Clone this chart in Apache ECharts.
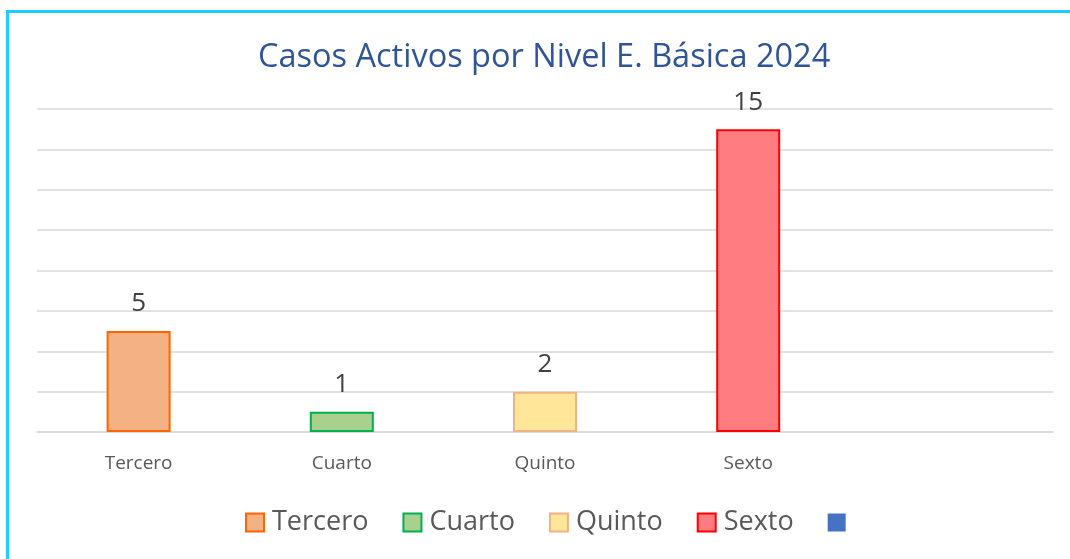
<!DOCTYPE html>
<html>
<head>
    <meta charset="utf-8">
    <title>Casos Activos</title>
    <script src="https://cdn.jsdelivr.net/npm/echarts@6/dist/echarts.min.js"></script>
    <style>
        body { margin: 0; background: #fff; }
    </style>
</head>
<body>
<div id="main" style="width: 1070px;height:559px;"></div>
<script type="text/javascript">
    // datos
    var categorias = ['Tercero', 'Cuarto', 'Quinto', 'Sexto', ''];
    var nombresSeries = ['Tercero', 'Cuarto', 'Quinto', 'Sexto', ' '];
    var valores = [5, 1, 2, 15, null];

    var rellenos = ['#F4B183', '#A9D18E', '#FFE699', '#FF7C80', '#4472C4'];
    var bordes = ['#FF6600', '#00B050', '#F4B183', '#FF0000', '#4472C4'];

    var fuente = '"Open Sans", "Noto Sans", sans-serif';

    var series = [];
    for (var i = 0; i < nombresSeries.length; i++) {
        var datos = [];
        for (var j = 0; j < categorias.length; j++) {
            datos.push(j === i && valores[i] != null ? valores[i] : '-');
        }
        series.push({
            name: nombresSeries[i],
            type: 'bar',
            stack: 'total',
            barWidth: 64,
            data: datos,
            itemStyle: {
                color: rellenos[i],
                borderColor: bordes[i],
                borderWidth: i === 4 ? 0 : 2
            },
            label: {
                show: true,
                position: 'top',
                distance: 14,
                color: '#404040',
                fontSize: 26,
                fontFamily: fuente
            }
        });
    }

    var chart = echarts.init(document.getElementById('main'));
    chart.setOption({
        animation: false,
        title: {
            text: 'Casos Activos por Nivel E. Básica 2024',
            left: 253,
            top: 36,
            textStyle: {
                color: '#2F5597',
                fontSize: 32.5,
                fontWeight: 'normal',
                fontFamily: fuente
            }
        },
        graphic: [{
            type: 'rect',
            shape: { x: 7.5, y: 11.5, width: 1200, height: 700 },
            style: { fill: 'none', stroke: '#1FCBFF', lineWidth: 3 },
            silent: true
        }],
        legend: {
            bottom: 18,
            left: 240,
            itemWidth: 18,
            itemHeight: 18,
            itemGap: 34,
            icon: 'rect',
            textStyle: {
                color: '#595959',
                fontSize: 27,
                padding: [0, 0, 0, 3],
                fontFamily: fuente
            },
            data: nombresSeries
        },
        grid: {
            left: 37,
            right: 17,
            top: 109,
            bottom: 127
        },
        xAxis: {
            type: 'category',
            data: categorias,
            axisTick: { show: false },
            axisLine: { lineStyle: { color: '#D9D9D9', width: 1.5 } },
            axisLabel: {
                color: '#595959',
                fontSize: 19,
                margin: 22,
                fontFamily: fuente
            }
        },
        yAxis: {
            type: 'value',
            min: 0,
            max: 16,
            interval: 2,
            axisLabel: { show: false },
            axisLine: { show: false },
            axisTick: { show: false },
            splitLine: { lineStyle: { color: '#D9D9D9', width: 1.5 } }
        },
        series: series
    });
</script>
</body>
</html>
